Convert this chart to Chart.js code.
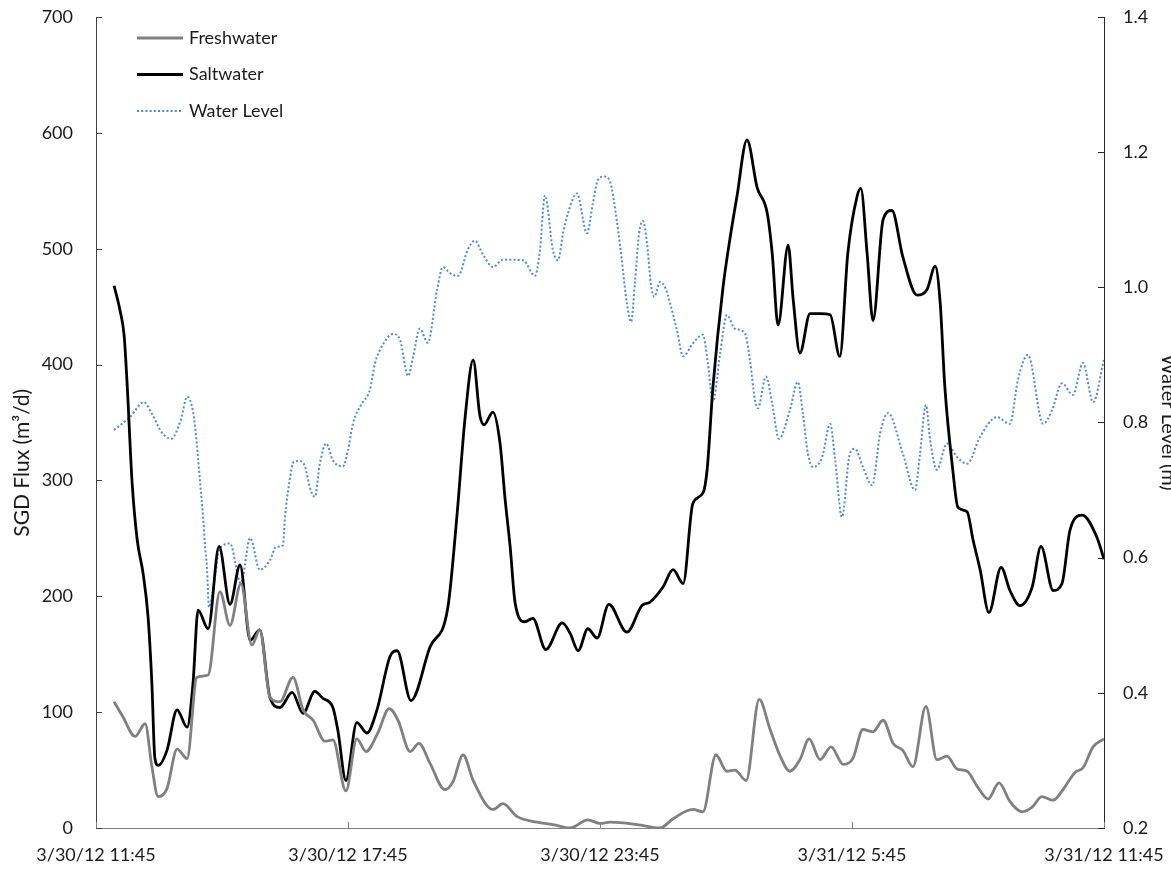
<!DOCTYPE html>
<html>
<head>
<meta charset="utf-8">
<script src="https://cdn.jsdelivr.net/npm/chart.js@4.4.1/dist/chart.umd.min.js"></script>
<style>
  html, body { margin: 0; padding: 0; background: #ffffff; overflow: hidden; }
  #wrap { position: relative; width: 1171px; height: 870px; overflow: hidden; }
  canvas { position: absolute; left: 0; top: 0; }
</style>
</head>
<body>
<div id="wrap"><canvas id="c" width="1185" height="870"></canvas></div>
<script>
// ---- tick labels (x axis: hours after 3/30/12 11:45) ----
const xTickHours = [0, 6, 12, 18, 24];
const xTickLabels = ['3/30/12 11:45', '3/30/12 17:45', '3/30/12 23:45', '3/31/12 5:45', '3/31/12 11:45'];
const seriesNames = ['Freshwater', 'Saltwater', 'Water Level'];

// ---- Saltwater SGD flux (m3/d) ----
const saltTimes = [0.43,0.57,0.67,0.74,0.86,0.98,1.12,1.24,1.33,1.40,1.48,1.69,1.93,2.17,2.31,2.43,2.67,2.93,3.19,3.43,
  3.67,3.90,4.14,4.38,4.67,4.93,5.21,5.40,5.64,5.76,5.95,6.21,6.45,6.69,7.00,7.17,7.50,7.95,8.38,8.60,
  8.79,8.98,9.14,9.24,9.45,9.62,9.74,9.86,9.98,10.21,10.40,10.71,11.10,11.29,11.48,11.71,11.93,12.21,12.64,13.00,
  13.19,13.50,13.74,13.98,14.21,14.45,14.55,14.69,14.93,15.10,15.26,15.50,15.74,15.98,16.10,16.24,16.48,16.60,16.76,17.00,
  17.24,17.48,17.71,17.90,18.12,18.21,18.36,18.50,18.74,18.95,19.21,19.55,19.79,19.98,20.10,20.21,20.40,20.52,20.74,20.88,
  21.05,21.26,21.55,21.76,22.00,22.29,22.50,22.79,23.00,23.19,23.48,23.83,24.00];
const saltValues = [468,447,425,384,298,249,220,182,125,61,54,67,102,87,125,188,172,243,193,227,
  162,171,113,104,117,99,118,112,104,84,41,91,82,102,148,153,110,156,191,272,
  355,404,356,348,359,332,284,243,194,178,181,154,177,168,153,172,164,193,169,192,
  195,208,223,211,280,289,309,381,467,510,545,594,553,531,496,434,503,456,410,444,
  444,443,407,496,545,552,496,438,525,533,493,460,465,485,453,381,309,277,273,249,
  223,186,225,205,192,208,243,205,211,257,270,251,232];

// ---- Freshwater SGD flux (m3/d) ----
const freshTimes = [0.43,0.64,0.93,1.17,1.33,1.48,1.69,1.93,2.17,2.40,2.67,2.95,3.19,3.45,3.71,3.90,4.14,4.38,4.69,4.93,
  5.17,5.45,5.64,5.95,6.21,6.43,6.71,6.98,7.19,7.48,7.69,7.95,8.31,8.50,8.74,8.98,9.45,9.69,10.02,10.50,
  10.88,11.29,11.71,12.00,12.24,12.88,13.43,13.74,14.21,14.45,14.76,15.02,15.21,15.48,15.79,16.05,16.29,16.52,16.76,16.98,
  17.24,17.50,17.79,18.02,18.26,18.50,18.74,18.98,19.21,19.45,19.76,20.02,20.26,20.50,20.74,20.98,21.24,21.50,21.76,22.05,
  22.29,22.52,22.79,23.02,23.31,23.50,23.74,24.00];
const freshValues = [109,96,79,90,53,27,34,68,60,130,132,204,175,211,158,171,113,109,130,102,
  93,75,76,32,77,66,82,103,93,66,73,56,33,40,63,41,16,21,10,5,
  3,0,7,4,5,3,0,8,16,14,63,49,50,41,111,85,62,49,59,77,
  59,70,55,60,85,83,93,73,67,53,105,59,62,51,49,36,25,39,23,14,
  18,27,24,33,48,52,70,77];

// ---- Water level (m) ----
const levelTimes = [0.43,0.81,1.14,1.33,1.57,1.79,2.02,2.17,2.31,2.40,2.48,2.55,2.60,2.64,2.69,2.81,2.93,3.19,3.45,3.67,
  3.90,4.14,4.29,4.45,4.50,4.60,4.71,4.86,4.98,5.10,5.21,5.33,5.48,5.64,5.88,6.00,6.12,6.33,6.52,6.64,
  6.83,7.07,7.24,7.43,7.55,7.71,7.90,8.12,8.26,8.43,8.62,8.86,9.02,9.21,9.45,9.69,10.17,10.45,10.57,10.69,
  10.88,11.00,11.12,11.24,11.45,11.69,11.83,11.95,12.10,12.24,12.40,12.52,12.64,12.74,12.83,12.93,13.02,13.12,13.21,13.29,
  13.43,13.55,13.67,13.83,13.98,14.21,14.45,14.57,14.69,14.86,15.02,15.21,15.45,15.57,15.69,15.76,15.95,16.10,16.26,16.52,
  16.71,16.83,16.95,17.07,17.29,17.48,17.60,17.76,17.95,18.07,18.26,18.48,18.67,18.86,19.21,19.50,19.62,19.76,19.86,20.02,
  20.26,20.50,20.74,21.05,21.45,21.76,21.95,22.19,22.55,22.76,23.00,23.26,23.50,23.74,24.00];
const levelValues = [0.789,0.808,0.830,0.813,0.785,0.776,0.804,0.838,0.816,0.769,0.710,0.660,0.614,0.587,0.527,0.562,0.611,0.621,0.562,0.629,
  0.582,0.596,0.616,0.618,0.660,0.710,0.742,0.743,0.734,0.702,0.690,0.739,0.769,0.744,0.735,0.759,0.799,0.828,0.848,0.887,
  0.915,0.931,0.922,0.869,0.897,0.939,0.918,0.996,1.030,1.021,1.017,1.057,1.069,1.049,1.030,1.041,1.040,1.017,1.055,1.136,
  1.055,1.040,1.080,1.110,1.139,1.080,1.124,1.159,1.164,1.156,1.099,1.040,0.976,0.949,1.006,1.080,1.098,1.065,1.006,0.986,
  1.008,1.000,0.976,0.937,0.898,0.917,0.930,0.887,0.831,0.902,0.959,0.939,0.932,0.892,0.833,0.821,0.868,0.828,0.776,0.818,
  0.860,0.813,0.754,0.734,0.749,0.798,0.744,0.660,0.754,0.761,0.734,0.707,0.784,0.814,0.754,0.700,0.754,0.826,0.774,0.730,
  0.769,0.749,0.739,0.779,0.808,0.798,0.863,0.900,0.798,0.818,0.858,0.841,0.888,0.830,0.893];

const toPts = (xs, ys) => xs.map((x, i) => ({ x: x, y: ys[i] }));

const FONT = 'Lato, "Open Sans", "Liberation Sans", sans-serif';
const TEXT = '#1a1a1a';
const NB = '\u00A0';

const innerTicks = {
  id: 'innerTicks',
  afterDatasetsDraw(chart) {
    const ctx = chart.ctx, a = chart.chartArea, L = 6;
    ctx.save();
    ctx.lineWidth = 1;
    const yl = chart.scales.y, yr = chart.scales.y2, xs = chart.scales.x;
    ctx.strokeStyle = '#404040';
    yl.ticks.forEach(t => { const y = Math.round(yl.getPixelForValue(t.value)) + 0.5; ctx.beginPath(); ctx.moveTo(a.left, y); ctx.lineTo(a.left + L, y); ctx.stroke(); });
    ctx.strokeStyle = '#262626';
    yr.ticks.forEach(t => { const y = Math.round(yr.getPixelForValue(t.value)) + 0.5; ctx.beginPath(); ctx.moveTo(a.right - L, y); ctx.lineTo(a.right, y); ctx.stroke(); });
    ctx.strokeStyle = '#808080';
    xs.ticks.forEach(t => { const x = Math.round(xs.getPixelForValue(t.value)) + 0.5; ctx.beginPath(); ctx.moveTo(x, a.bottom); ctx.lineTo(x, a.bottom - L); ctx.stroke(); });
    ctx.restore();
  }
};

const insideLegend = {
  id: 'insideLegend',
  afterDraw(chart) {
    const ctx = chart.ctx, a = chart.chartArea;
    const x0 = a.left + 41, x1 = a.left + 87, tx = a.left + 93;
    const rows = [a.top + 21, a.top + 57.5, a.top + 94];
    ctx.save();
    chart.data.datasets.forEach((ds, i) => {
      const y = rows[i];
      ctx.beginPath();
      ctx.strokeStyle = ds.borderColor;
      ctx.lineWidth = ds.borderWidth;
      ctx.setLineDash(ds.borderDash || []);
      ctx.moveTo(x0, y); ctx.lineTo(x1, y); ctx.stroke();
      ctx.setLineDash([]);
      ctx.fillStyle = TEXT;
      ctx.font = '18px ' + FONT;
      ctx.textBaseline = 'middle';
      ctx.textAlign = 'left';
      ctx.fillText(ds.label, tx, y);
    });
    ctx.restore();
  }
};

const fixYPad = (w) => (s) => { s.width = w; s.paddingTop = 17; s.paddingBottom = 0; };

function build() {
  new Chart(document.getElementById('c'), {
    type: 'line',
    data: {
      datasets: [
        { label: seriesNames[0], data: toPts(freshTimes, freshValues), yAxisID: 'y',
          borderColor: '#808080', borderWidth: 2.8, pointRadius: 0, cubicInterpolationMode: 'monotone', fill: false },
        { label: seriesNames[1], data: toPts(saltTimes, saltValues), yAxisID: 'y',
          borderColor: '#000000', borderWidth: 2.8, pointRadius: 0, cubicInterpolationMode: 'monotone', fill: false },
        { label: seriesNames[2], data: toPts(levelTimes, levelValues), yAxisID: 'y2',
          borderColor: '#4a8ad8', borderWidth: 2, borderDash: [2, 2.2], pointRadius: 0, cubicInterpolationMode: 'monotone', fill: false }
      ]
    },
    options: {
      responsive: false,
      animation: false,
      events: [],
      layout: { padding: 0 },
      plugins: { legend: { display: false }, tooltip: { enabled: false } },
      scales: {
        x: {
          type: 'linear', position: 'bottom', min: 0, max: 24,
          grid: { display: false, drawTicks: false },
          border: { display: true, color: '#808080', width: 1 },
          ticks: { stepSize: 6, autoSkip: false, maxRotation: 0, padding: 16, color: TEXT,
            font: { family: FONT, size: 18 },
            callback: (v) => { const k = xTickHours.indexOf(v); return k >= 0 ? xTickLabels[k] : ''; } },
          afterFit: (s) => { s.height = 42; s.paddingLeft = 0; s.paddingRight = 0; }
        },
        y: {
          type: 'linear', position: 'left', min: 0, max: 700,
          grid: { display: false, drawTicks: false },
          border: { display: true, color: '#404040', width: 1 },
          ticks: { stepSize: 100, padding: 23, color: TEXT, font: { family: FONT, size: 18 } },
          title: { display: true, text: 'SGD Flux (m³/d)' + NB.repeat(15), color: TEXT, font: { family: FONT, size: 21 }, padding: { top: 10, bottom: 0 } },
          afterFit: fixYPad(96)
        },
        y2: {
          type: 'linear', position: 'right', min: 0.2, max: 1.4,
          grid: { display: false, drawTicks: false },
          border: { display: true, color: '#262626', width: 1 },
          ticks: { stepSize: 0.2, padding: 19, color: TEXT, font: { family: FONT, size: 18 },
            callback: (v) => Number(v).toFixed(1) },
          title: { display: true, text: 'Water Level (m)', color: TEXT, font: { family: FONT, size: 20 }, padding: { top: 5, bottom: 0 } },
          afterFit: fixYPad(81)
        }
      }
    },
    plugins: [innerTicks, insideLegend]
  });
}

if (document.fonts && document.fonts.load) {
  Promise.all([document.fonts.load('18px Lato'), document.fonts.load('20px Lato')]).then(build, build);
} else {
  build();
}
</script>
</body>
</html>
